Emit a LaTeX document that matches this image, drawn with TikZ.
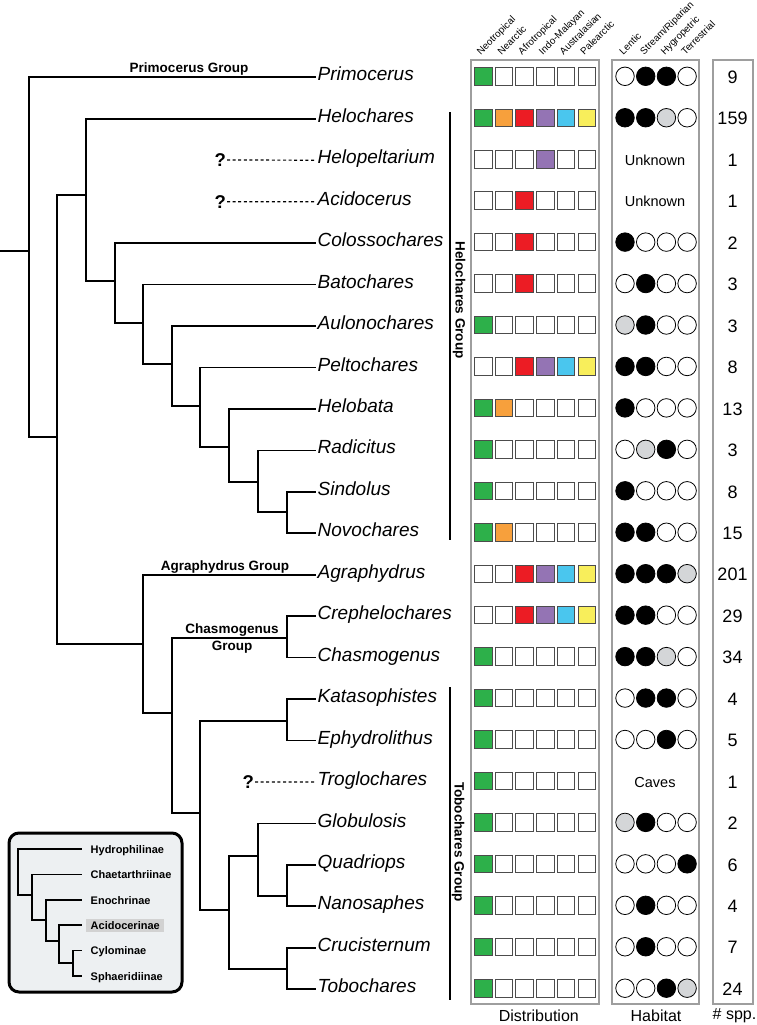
\documentclass[tikz,border=0pt]{standalone}
\usepackage{fontspec}
\setmainfont{Liberation Sans}
\usetikzlibrary{positioning}

\definecolor{dW}{HTML}{FFFFFF}
\definecolor{dG}{HTML}{2DB04A}
\definecolor{dO}{HTML}{F7A03C}
\definecolor{dR}{HTML}{EC1C24}
\definecolor{dP}{HTML}{9474B4}
\definecolor{dC}{HTML}{4AC6EE}
\definecolor{dY}{HTML}{F8EE5B}
\definecolor{hW}{HTML}{FFFFFF}
\definecolor{hB}{HTML}{000000}
\definecolor{hG}{HTML}{D4D6D8}
\definecolor{insetbg}{HTML}{EDF0F2}
\definecolor{hilite}{HTML}{D2D2D2}

\begin{document}
\begin{tikzpicture}[x=1pt, y=-1pt,
    br/.style={line width=1.7pt},
    ibr/.style={line width=1.2pt},
    qline/.style={line width=1.2pt, dash pattern=on 3pt off 2.6pt},
    taxon/.style={anchor=west, inner xsep=1.5pt, inner ysep=0pt, text height=0.72em, text depth=0pt, font=\fontsize{19}{20}\selectfont\itshape},
    grp/.style={font=\fontsize{13.5}{17}\selectfont\bfseries, inner sep=0.5pt, align=center},
    vgrp/.style={font=\fontsize{13.5}{16}\selectfont\bfseries, rotate=-90, inner sep=0pt},
    qm/.style={font=\fontsize{18.5}{20}\selectfont\bfseries, anchor=east, inner sep=1pt},
    panel/.style={draw=black!38, line width=1.4pt},
    sq/.style={draw=black!70, line width=0.9pt, minimum size=17.5pt, inner sep=0pt},
    hab/.style={circle, draw=black, line width=0.8pt, minimum size=18.5pt, inner sep=0pt},
    cnt/.style={font=\fontsize{18}{20}\selectfont},
    note/.style={font=\fontsize{14.5}{16}\selectfont},
    head/.style={font=\fontsize{9.8}{11}\selectfont, rotate=45, anchor=base west, inner sep=0pt},
    foot/.style={font=\fontsize{16}{18}\selectfont},
    ilab/.style={font=\fontsize{11}{12}\selectfont\bfseries, anchor=west, inner xsep=4.5pt, inner ysep=2.5pt, text height=8pt, text depth=0pt}
]
\useasboundingbox (0,0) rectangle (756,1025);

\foreach \nm [count=\i from 0] in {Primocerus, Helochares, Helopeltarium, Acidocerus, Colossochares, Batochares, Aulonochares, Peltochares, Helobata, Radicitus, Sindolus, Novochares, Agraphydrus, Crephelochares, Chasmogenus, Katasophistes, Ephydrolithus, Troglochares, Globulosis, Quadriops, Nanosaphes, Crucisternum, Tobochares}{
  \pgfmathsetmacro\y{77.3+41.45*\i}
  \node[taxon] (\nm) at (316,\y) {\nm};
}

\coordinate (stem) at (0,251);
\coordinate (root) at (29,251);
\coordinate (nA) at (57,437);
\coordinate (nH) at (86,195);
\coordinate (nH2) at (115,281);
\coordinate (nH3) at (143,323);
\coordinate (nH4) at (172,364);
\coordinate (nH5) at (200,406);
\coordinate (nH6) at (229,447);
\coordinate (nH7) at (258,482);
\coordinate (nH8) at (287,512);
\coordinate (nB) at (143,644);
\coordinate (nC) at (172,713);
\coordinate (nCh) at (287,638);
\coordinate (nT) at (200,813);
\coordinate (nK) at (287,721);
\coordinate (nT2) at (229,910);
\coordinate (nG) at (258,856);
\coordinate (nQ) at (287,896);
\coordinate (nCr) at (287,969);

\draw[br] (stem) -- (root);
\draw[br] (root) |- (Primocerus.west);
\draw[br] (root) |- (nA);
\draw[br] (nA) |- (nH);
\draw[br] (nA) |- (nB);
\draw[br] (nH) |- (Helochares.west);
\draw[br] (nH) |- (nH2);
\draw[br] (nH2) |- (Colossochares.west);
\draw[br] (nH2) |- (nH3);
\draw[br] (nH3) |- (Batochares.west);
\draw[br] (nH3) |- (nH4);
\draw[br] (nH4) |- (Aulonochares.west);
\draw[br] (nH4) |- (nH5);
\draw[br] (nH5) |- (Peltochares.west);
\draw[br] (nH5) |- (nH6);
\draw[br] (nH6) |- (Helobata.west);
\draw[br] (nH6) |- (nH7);
\draw[br] (nH7) |- (Radicitus.west);
\draw[br] (nH7) |- (nH8);
\draw[br] (nH8) |- (Sindolus.west);
\draw[br] (nH8) |- (Novochares.west);
\draw[br] (nB) |- (Agraphydrus.west);
\draw[br] (nB) |- (nC);
\draw[br] (nC) |- (nCh);
\draw[br] (nC) |- (nT);
\draw[br] (nCh) |- (Crephelochares.west);
\draw[br] (nCh) |- (Chasmogenus.west);
\draw[br] (nT) |- (nK);
\draw[br] (nT) |- (nT2);
\draw[br] (nK) |- (Katasophistes.west);
\draw[br] (nK) |- (Ephydrolithus.west);
\draw[br] (nT2) |- (nG);
\draw[br] (nT2) |- (nCr);
\draw[br] (nG) |- (Globulosis.west);
\draw[br] (nG) |- (nQ);
\draw[br] (nQ) |- (Quadriops.west);
\draw[br] (nQ) |- (Nanosaphes.west);
\draw[br] (nCr) |- (Crucisternum.west);
\draw[br] (nCr) |- (Tobochares.west);

\node[qm] (q1) at (227,160) {?};
\node[qm] (q2) at (227,201.7) {?};
\node[qm] (q3) at (255,782) {?};
\draw[qline] (q1.east) -- (Helopeltarium.west);
\draw[qline] (q2.east) -- (Acidocerus.west);
\draw[qline] (q3.east) -- (Troglochares.west);

\node[grp, anchor=south] (gPrim) at (189,76.5) {Primocerus Group};
\node[grp, anchor=south] (gAgra) at (225,574.5) {Agraphydrus Group};
\node[grp] (gChas) at (232,638.5) {Chasmogenus\\Group};

\coordinate (hTop) at (449.5,112);
\coordinate (hBot) at (449.5,540);
\coordinate (tTop) at (449.5,687);
\coordinate (tBot) at (449.5,1000);
\draw[line width=2pt] (hTop) -- (hBot);
\draw[line width=2pt] (tTop) -- (tBot);
\node[vgrp] (gHelo) at (459,300) {Helochares Group};
\node[vgrp] (gTobo) at (458,842) {Tobochares Group};

\draw[panel] (471,60) rectangle (599,1004);
\draw[panel] (612,60) rectangle (699,1004);
\draw[panel] (713,60) rectangle (753,1004);

\foreach \lab [count=\k] in {Neotropical, Nearctic, Afrotropical, Indo-Malayan, Australasian, Palearctic}
  \node[head] (hd\k) at ({460+20.7*\k},55.5) {\lab};
\foreach \lab [count=\k] in {Lentic, Stream/Riparian, Hygropetric, Terrestrial}
  \node[head] (hh\k) at ({602.5+20.7*\k},55.5) {\lab};

\foreach \r/\a/\b/\c/\d/\e/\f in {0/dG/dW/dW/dW/dW/dW, 1/dG/dO/dR/dP/dC/dY, 2/dW/dW/dW/dP/dW/dW, 3/dW/dW/dR/dW/dW/dW, 4/dW/dW/dR/dW/dW/dW, 5/dW/dW/dR/dW/dW/dW, 6/dG/dW/dW/dW/dW/dW, 7/dW/dW/dR/dP/dC/dY, 8/dG/dO/dW/dW/dW/dW, 9/dG/dW/dW/dW/dW/dW, 10/dG/dW/dW/dW/dW/dW, 11/dG/dO/dW/dW/dW/dW, 12/dW/dW/dR/dP/dC/dY, 13/dW/dW/dR/dP/dC/dY, 14/dG/dW/dW/dW/dW/dW, 15/dG/dW/dW/dW/dW/dW, 16/dG/dW/dW/dW/dW/dW, 17/dG/dW/dW/dW/dW/dW, 18/dG/dW/dW/dW/dW/dW, 19/dG/dW/dW/dW/dW/dW, 20/dG/dW/dW/dW/dW/dW, 21/dG/dW/dW/dW/dW/dW, 22/dG/dW/dW/dW/dW/dW}{
  \pgfmathsetmacro\y{76.3+41.45*\r}
  \foreach \col [count=\k] in {\a,\b,\c,\d,\e,\f}
    \node[sq, fill=\col] (d\r-\k) at ({462.5+20.7*\k},\y) {};
}

\foreach \r/\a/\b/\c/\d in {0/hW/hB/hB/hW, 1/hB/hB/hG/hW, 4/hB/hW/hW/hW, 5/hW/hB/hW/hW, 6/hG/hB/hW/hW, 7/hB/hB/hW/hW, 8/hB/hW/hW/hW, 9/hW/hG/hB/hW, 10/hB/hW/hW/hW, 11/hB/hB/hW/hW, 12/hB/hB/hB/hG, 13/hB/hB/hW/hW, 14/hB/hB/hG/hW, 15/hW/hB/hB/hW, 16/hW/hW/hB/hW, 18/hG/hB/hW/hW, 19/hW/hW/hW/hB, 20/hW/hB/hW/hW, 21/hW/hB/hW/hW, 22/hW/hW/hB/hG}{
  \pgfmathsetmacro\y{76.3+41.45*\r}
  \foreach \col [count=\k] in {\a,\b,\c,\d}
    \node[hab, fill=\col] (h\r-\k) at ({604.3+20.7*\k},\y) {};
}
\node[note] (h2) at (655,160.2) {Unknown};
\node[note] (h3) at (655,201.6) {Unknown};
\node[note] (h17) at (655,782) {Caves};

\foreach \n [count=\i from 0] in {9, 159, 1, 1, 2, 3, 3, 8, 13, 3, 8, 15, 201, 29, 34, 4, 5, 1, 2, 6, 4, 7, 24}{
  \pgfmathsetmacro\y{77.3+41.45*\i}
  \node[cnt] (c\i) at (732.5,\y) {\n};
}

\node[foot] (fDist) at (538.8,1016) {Distribution};
\node[foot] (fHab) at (656,1016) {Habitat};
\node[foot] (fSpp) at (734.5,1016) {\# spp.};

\draw[line width=3pt, rounded corners=10pt, fill=insetbg] (9,833) rectangle (182,992);
\node[ilab] (Hydrophilinae) at (86,849) {Hydrophilinae};
\node[ilab] (Chaetarthriinae) at (86,874.5) {Chaetarthriinae};
\node[ilab] (Enochrinae) at (86,900) {Enochrinae};
\node[ilab, fill=hilite] (Acidocerinae) at (86,925) {Acidocerinae};
\node[ilab] (Cylominae) at (86,950.5) {Cylominae};
\node[ilab] (Sphaeridiinae) at (86,976) {Sphaeridiinae};
\coordinate (i1) at (18,872);
\coordinate (i2) at (32,895);
\coordinate (i3) at (46,920);
\coordinate (i4) at (59,941);
\coordinate (i5) at (73,963);
\draw[ibr] (i1) |- ([xshift=-4pt]Hydrophilinae.west);
\draw[ibr] (i1) |- (i2);
\draw[ibr] (i2) |- ([xshift=-4pt]Chaetarthriinae.west);
\draw[ibr] (i2) |- (i3);
\draw[ibr] (i3) |- ([xshift=-4pt]Enochrinae.west);
\draw[ibr] (i3) |- (i4);
\draw[ibr] (i4) |- ([xshift=-4pt]Acidocerinae.west);
\draw[ibr] (i4) |- (i5);
\draw[ibr] (i5) |- ([xshift=-4pt]Cylominae.west);
\draw[ibr] (i5) |- ([xshift=-4pt]Sphaeridiinae.west);
\end{tikzpicture}
\end{document}
